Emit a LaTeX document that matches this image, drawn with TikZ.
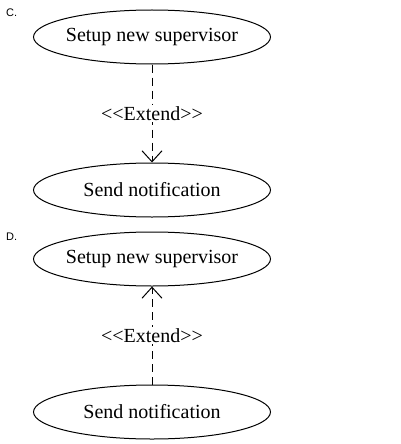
\documentclass[tikz,border=0pt]{standalone}
\usepackage{fontspec}
\setmainfont{Liberation Serif}
\newfontfamily\labelfont{Liberation Sans}
\usetikzlibrary{arrows.meta, positioning, shapes.geometric}

\begin{document}
\begin{tikzpicture}[
    x=1pt, y=-1pt,
    node distance=98pt,
    usecase/.style={draw, ellipse, line width=1pt, minimum width=237pt, minimum height=54pt,
                    inner xsep=-4pt, inner ysep=0pt, font=\fontsize{20}{22}\selectfont},
    ext/.style={line width=1pt, dash pattern=on 8pt off 5pt,
                -{Straight Barb[length=11pt, width=20pt, line width=1pt]}},
    stereo/.style={fill=white, inner sep=1pt, font=\fontsize{20}{22}\selectfont},
    part/.style={font=\labelfont\fontsize{11}{12}\selectfont, anchor=west, inner sep=0pt},
]
\useasboundingbox (0,0) rectangle (401,444);

% Option C
\node[part] (labC) at (6,13) {C.};
\node[usecase] (setupC) at (152,37) {Setup new supervisor};
\node[usecase, below=of setupC] (sendC) {Send notification};
\draw[ext] (setupC) -- node[stereo]{{<}{<}Extend{>}{>}} (sendC);

% Option D
\node[part] (labD) at (6,237) {D.};
\node[usecase] (setupD) at (152,259) {Setup new supervisor};
\node[usecase, below=of setupD] (sendD) {Send notification};
\draw[ext] (sendD) -- node[stereo]{{<}{<}Extend{>}{>}} (setupD);
\end{tikzpicture}
\end{document}
